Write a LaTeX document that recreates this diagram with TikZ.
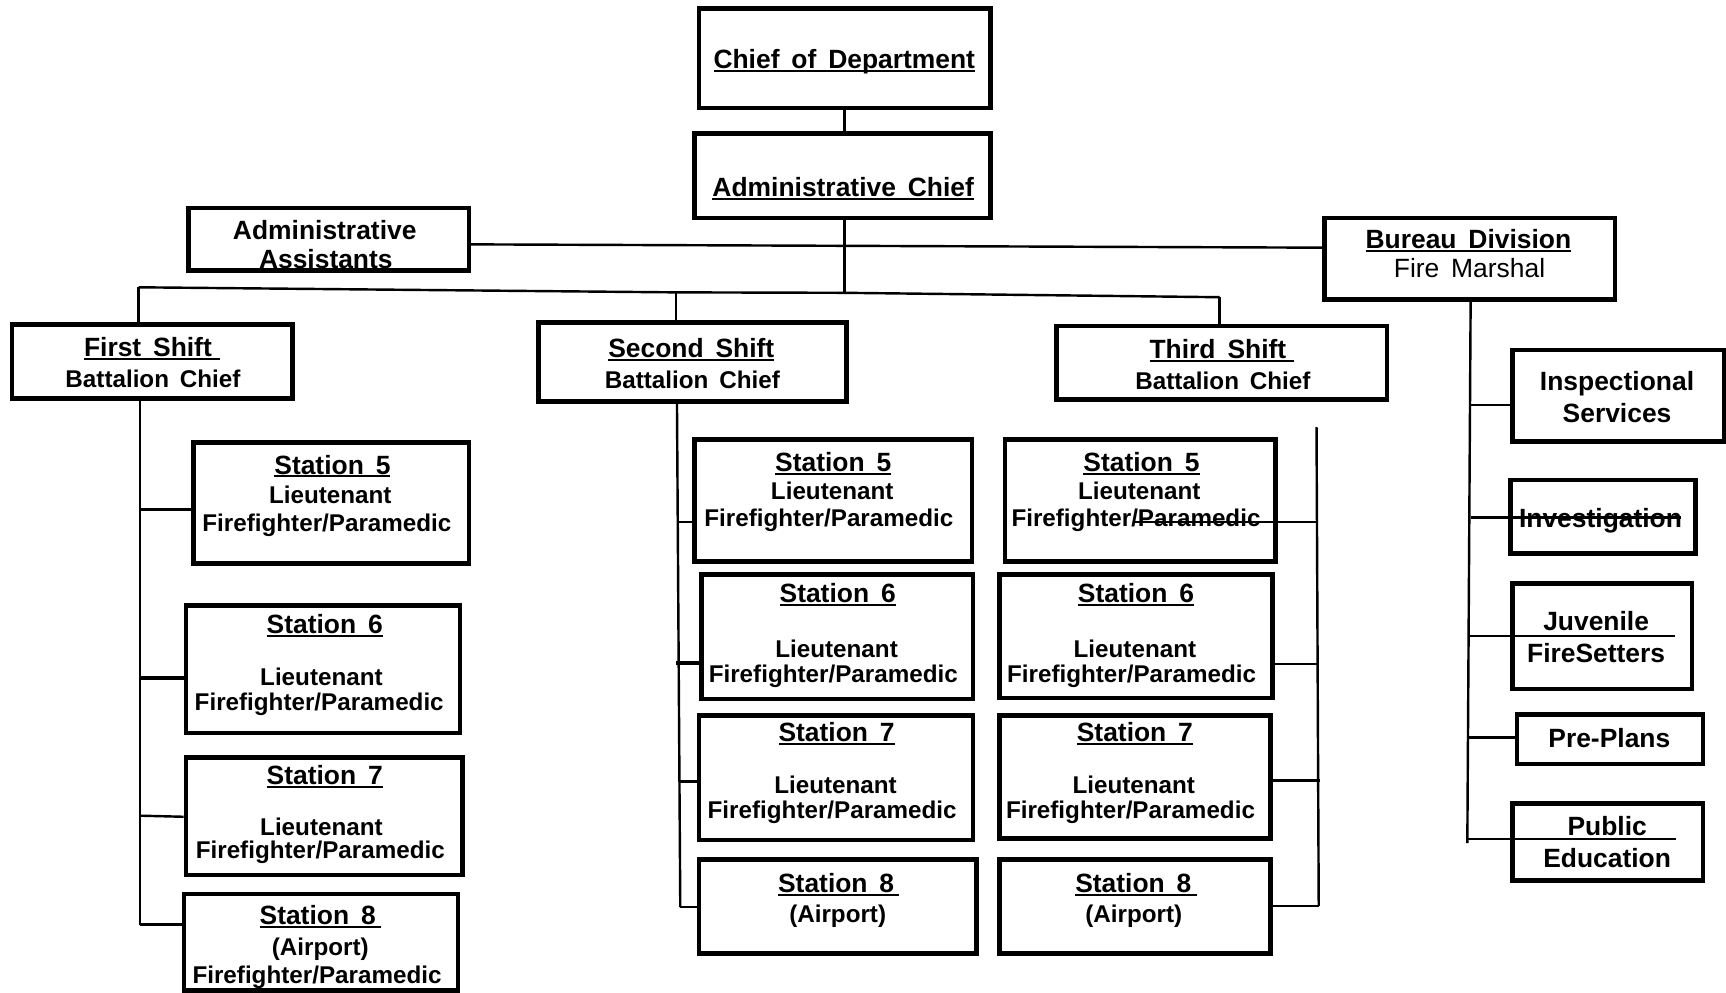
\documentclass[tikz,border=0pt]{standalone}
\usepackage{fontspec}
\setmainfont{Liberation Sans}
\usetikzlibrary{fit,calc}
\newcommand\ul[1]{\setbox0=\hbox{#1}\rlap{\rule[-0.13em]{\wd0}{0.08em}}\box0}
\newcommand\gap{\hspace{0.45em}}
\tikzset{
 box/.style={draw, line width=4.2pt, inner sep=0pt, line join=miter},
 conn/.style={line width=2.2pt},
 t/.style={font=\bfseries\fontsize{22}{24}\selectfont, inner sep=0pt, anchor=mid, yshift=-6pt},
 tt/.style={font=\bfseries\fontsize{24}{26}\selectfont, inner sep=0pt, anchor=mid, yshift=-6pt},
 tr/.style={font=\fontsize{24}{26}\selectfont, inner sep=0pt, anchor=mid, yshift=-6pt},
}
\newcommand\bx[5]{\node[box, fit={(#2,#3) (#4,#5)}] (#1) {};}
\begin{document}
\begin{tikzpicture}[x=1pt,y=-1pt]
\useasboundingbox (0,0) rectangle (1568,902);
% boxes
\bx{chief}{635}{8}{900}{98}
\bx{adminchief}{631}{121}{900}{198}
\bx{assist}{171}{189}{426}{246}
\bx{bureau}{1203}{198}{1467}{272}
\bx{shift1}{11}{295}{266}{362}
\bx{shift2}{489}{293}{769}{365}
\bx{shift3}{960}{296}{1260}{363}
\bx{insp}{1374}{318}{1566}{401}
\bx{invest}{1372}{436}{1540}{503}
\bx{juv}{1374}{530}{1537}{626}
\bx{pre}{1378}{649}{1547}{694}
\bx{pub}{1374}{730}{1547}{800}
\bx{aS5}{176}{402}{426}{512}
\bx{aS6}{169}{550}{418}{666}
\bx{aS7}{169}{688}{420}{795}
\bx{aS8}{167}{812}{416}{900}
\bx{bS5}{631}{399}{883}{510}
\bx{bS6}{637}{522}{884}{635}
\bx{bS7}{635}{650}{884}{763}
\bx{bS8}{635}{781}{887}{866}
\bx{cS5}{913}{399}{1159}{510}
\bx{cS6}{908}{522}{1156}{634}
\bx{cS7}{908}{650}{1154}{762}
\bx{cS8}{908}{781}{1154}{866}
% texts
\node[tt] (chiefT) at (767,54) {\ul{Chief\gap of\gap Department}};
\node[tt] (adminchiefT) at (766,170) {\ul{Administrative\gap Chief}};
\node[tt] (assistA) at (295,209) {Administrative};
\node[tt] (assistB) at (296,235) {Assistants};
\node[tt] (bureauA) at (1334,217) {\ul{Bureau\gap Division}};
\node[tr] (bureauB) at (1335,243) {Fire\gap Marshal};
\node[tt] (shift1A) at (138,315) {\ul{First\gap Shift\hspace{0.3em}}};
\node[t] (shift1B) at (139,343) {Battalion\gap Chief};
\node[tt] (shift2A) at (628,316) {\ul{Second\gap Shift}};
\node[t] (shift2B) at (629,344) {Battalion\gap Chief};
\node[tt] (shift3A) at (1110,317) {\ul{Third\gap Shift\hspace{0.3em}}};
\node[t] (shift3B) at (1111,345) {Battalion\gap Chief};
\node[tt] (inspA) at (1469,346) {Inspectional};
\node[tt] (inspB) at (1469,375) {Services};
\node[tt] (investT) at (1454,471) {Investigation};
\node[tt] (juvA) at (1450,564) {Juvenile};
\node[tt] (juvB) at (1450,593) {FireSetters};
\node[tt] (preT) at (1462,670) {Pre-Plans};
\node[tt] (pubA) at (1460,750) {Public};
\node[tt] (pubB) at (1460,779) {Education};
% column 1
\node[tt] (aS5a) at (302,422) {\ul{Station\gap 5}};
\node[t] (aS5b) at (300,449) {Lieutenant};
\node[t] (aS5c) at (297,474) {Firefighter/Paramedic};
\node[tt] (aS6a) at (295,567) {\ul{Station\gap 6}};
\node[t] (aS6b) at (292,614) {Lieutenant};
\node[t] (aS6c) at (290,637) {Firefighter/Paramedic};
\node[tt] (aS7a) at (295,704) {\ul{Station\gap 7}};
\node[t] (aS7b) at (292,750) {Lieutenant};
\node[t] (aS7c) at (291,771) {Firefighter/Paramedic};
\node[tt] (aS8a) at (291,831) {\ul{Station\gap 8\hspace{0.2em}}};
\node[t] (aS8b) at (291,859) {(Airport)};
\node[t] (aS8c) at (288,885) {Firefighter/Paramedic};
% column 2
\node[tt] (bS5a) at (757,420) {\ul{Station\gap 5}};
\node[t] (bS5b) at (756,445) {Lieutenant};
\node[t] (bS5c) at (753,470) {Firefighter/Paramedic};
\node[tt] (bS6a) at (761,539) {\ul{Station\gap 6}};
\node[t] (bS6b) at (760,589) {Lieutenant};
\node[t] (bS6c) at (757,611) {Firefighter/Paramedic};
\node[tt] (bS7a) at (760,665) {\ul{Station\gap 7}};
\node[t] (bS7b) at (759,712) {Lieutenant};
\node[t] (bS7c) at (756,735) {Firefighter/Paramedic};
\node[tt] (bS8a) at (762,802) {\ul{Station\gap 8\hspace{0.2em}}};
\node[t] (bS8b) at (761,829) {(Airport)};
% column 3
\node[tt] (cS5a) at (1037,420) {\ul{Station\gap 5}};
\node[t] (cS5b) at (1035,445) {Lieutenant};
\node[t] (cS5c) at (1032,470) {Firefighter/Paramedic};
\node[tt] (cS6a) at (1032,539) {\ul{Station\gap 6}};
\node[t] (cS6b) at (1031,589) {Lieutenant};
\node[t] (cS6c) at (1028,611) {Firefighter/Paramedic};
\node[tt] (cS7a) at (1031,665) {\ul{Station\gap 7}};
\node[t] (cS7b) at (1030,712) {Lieutenant};
\node[t] (cS7c) at (1027,735) {Firefighter/Paramedic};
\node[tt] (cS8a) at (1032,802) {\ul{Station\gap 8\hspace{0.2em}}};
\node[t] (cS8b) at (1030,829) {(Airport)};
% connector coordinates
\coordinate (J) at (767,266);
\coordinate (L) at (126,261);
\coordinate (M) at (614,265.6);
\coordinate (R) at (1108,270);
\coordinate (t1) at (127,840);
\coordinate (a5) at (127,463);
\coordinate (a6) at (127,616);
\coordinate (a7) at (127,741);
\coordinate (a8) at (127,840);
\coordinate (t2) at (618,824);
\coordinate (b5) at (615,474);
\coordinate (b6) at (614,602);
\coordinate (b7) at (617,710);
\coordinate (b8) at (618,824);
\coordinate (t3) at (1196,388);
\coordinate (c5) at (1196,474);
\coordinate (c5e) at (1030,474);
\coordinate (c6) at (1197,603);
\coordinate (c7) at (1199,709);
\coordinate (c8) at (1198,823);
\coordinate (t4) at (1333,766);
\coordinate (d1) at (1336,368);
\coordinate (d2) at (1336,470);
\coordinate (d2e) at (1527,470);
\coordinate (d3) at (1335,578);
\coordinate (d3e) at (1522,578);
\coordinate (d4) at (1334,670);
\coordinate (d5) at (1333,762);
\coordinate (d5e) at (1523,762);
% connectors
\draw[conn] (J |- chief.south) -- (J |- adminchief.north);
\draw[conn] (J |- adminchief.south) -- (J);
\draw[conn] ([yshift=-4.5pt]assist.east) -- ([yshift=10pt]bureau.west);
\draw[conn] (L) -- (M) -- (J) -- (R);
\draw[conn] (L) -- (L |- shift1.north);
\draw[conn] (M) -- (M |- shift2.north);
\draw[conn] (R) -- (R |- shift3.north);
\draw[conn] (t1 |- shift1.south) -- (t1);
\draw[conn] (a5) -- (a5 -| aS5.west);
\draw[conn, line width=3pt] (a6) -- (a6 -| aS6.west);
\draw[conn] (a7) -- ([yshift=-1pt]a7 -| aS7.west);
\draw[conn] (a8) -- (a8 -| aS8.west);
\draw[conn] (615,0 |- shift2.south) -- (t2);
\draw[conn] (b5) -- (b5 -| bS5.west);
\draw[conn, line width=3.5pt] (b6) -- (b6 -| bS6.west);
\draw[conn] (b7) -- (b7 -| bS7.west);
\draw[conn] (b8) -- (b8 -| bS8.west);
\draw[conn] (t3) -- (c8);
\draw[conn] (c5) -- (c5e);
\draw[conn] (c6) -- (c6 -| cS6.east);
\draw[conn] (c7) -- (c7 -| cS7.east);
\draw[conn] (c8) -- (c8 -| cS8.east);
\draw[conn] (1336,0 |- bureau.south) -- (t4);
\draw[conn] (d1) -- (d1 -| insp.west);
\draw[conn] (d2) -- (d2e);
\draw[conn] (d3) -- (d3e);
\draw[conn] (d4) -- (d4 -| pre.west);
\draw[conn] (d5) -- (d5e);
\end{tikzpicture}
\end{document}
